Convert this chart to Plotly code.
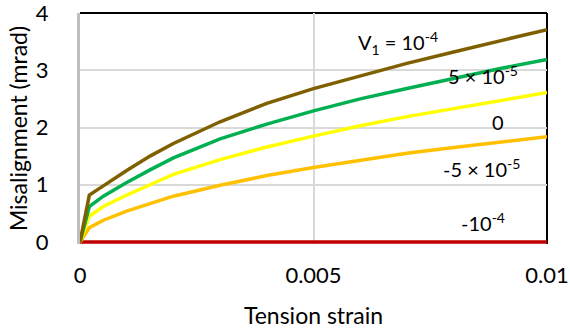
import plotly.graph_objects as go

strain = [0, 0.0002, 0.0005, 0.001, 0.0015, 0.002, 0.003, 0.004, 0.005, 0.006, 0.007, 0.008, 0.009, 0.01]
v_pos1e4 = [0, 0.82, 0.98, 1.25, 1.50, 1.72, 2.10, 2.42, 2.68, 2.90, 3.12, 3.32, 3.52, 3.71]
v_pos5e5 = [0, 0.62, 0.80, 1.04, 1.26, 1.47, 1.80, 2.06, 2.29, 2.50, 2.68, 2.86, 3.03, 3.19]
v_zero = [0, 0.45, 0.62, 0.82, 1.00, 1.18, 1.44, 1.66, 1.85, 2.03, 2.19, 2.33, 2.47, 2.61]
v_neg5e5 = [0, 0.25, 0.38, 0.54, 0.67, 0.80, 0.99, 1.16, 1.30, 1.43, 1.55, 1.65, 1.75, 1.84]
v_neg1e4 = [0, 0, 0, 0, 0, 0, 0, 0, 0, 0, 0, 0, 0, 0]

x_tickvals = [0, 0.005, 0.01]
x_ticktext = ["0", "0.005", "0.01"]
y_tickvals = [0, 1, 2, 3, 4]

series = [
    ("-10^-4", v_neg1e4, "#C00000"),
    ("-5e-5", v_neg5e5, "#FFC000"),
    ("0", v_zero, "#FFFF00"),
    ("5e-5", v_pos5e5, "#00B050"),
    ("1e-4", v_pos1e4, "#7F6000"),
]

labels = [
    ("V<sub>1</sub> = 10<sup>-4</sup>", 0.00682, 3.47),
    ("5 × 10<sup>-5</sup>", 0.00862, 2.92),
    ("0", 0.00896, 2.09),
    ("-5 × 10<sup>-5</sup>", 0.00859, 1.29),
    ("-10<sup>-4</sup>", 0.00863, 0.35),
]

FONT = "Lato"
fig = go.Figure()
for name, vals, col in series:
    fig.add_trace(go.Scatter(x=strain, y=vals, mode="lines", name=name,
                             line=dict(color=col, width=3.5), cliponaxis=False))

for txt, xx, yy in labels:
    fig.add_annotation(x=xx, y=yy, text=txt, showarrow=False,
                       font=dict(family=FONT, size=20, color="#000000"))

# top and right frame lines
fig.add_shape(type="line", xref="x domain", yref="y domain", x0=0, x1=1, y0=1, y1=1,
              line=dict(color="#000000", width=2), layer="below")
fig.add_shape(type="line", xref="x domain", yref="y domain", x0=1, x1=1, y0=0, y1=1,
              line=dict(color="#000000", width=2), layer="below")

fig.update_layout(
    width=570, height=329,
    margin=dict(l=80, r=23, t=13, b=85),
    paper_bgcolor="white", plot_bgcolor="white",
    showlegend=False,
    font=dict(family=FONT, size=22, color="#000000"),
    xaxis=dict(range=[0, 0.01], tickvals=x_tickvals, ticktext=x_ticktext,
               showgrid=True, gridcolor="#D9D9D9", gridwidth=1.5,
               showline=False,
               zeroline=False, ticks="", ticklabelstandoff=16,
               automargin=False, layer="below traces", ticklabeloverflow="allow",
               tickfont=dict(family=FONT, size=22),
               title=dict(text="Tension strain", standoff=21,
                          font=dict(family=FONT, size=23))),
    yaxis=dict(range=[-0.035, 4], tickvals=y_tickvals,
               showgrid=True, gridcolor="#D9D9D9", gridwidth=1.5,
               showline=True, linecolor="#BFBFBF", linewidth=3,
               zeroline=False, ticks="", ticklabelstandoff=24,
               automargin=False, layer="below traces", ticklabeloverflow="allow",
               tickfont=dict(family=FONT, size=22),
               title=dict(text="Misalignment (mrad)", standoff=2,
                          font=dict(family=FONT, size=23))),
)

fig.write_html("out.html", config={"displayModeBar": False},
               post_script="document.body.style.margin='0';")
